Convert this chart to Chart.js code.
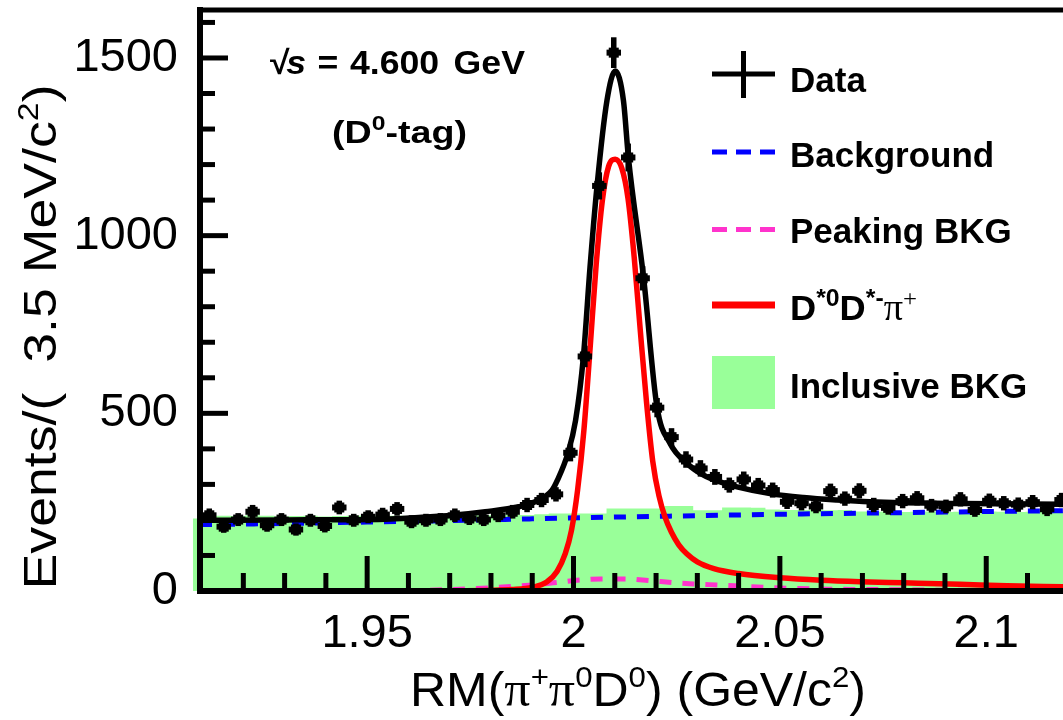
<!DOCTYPE html>
<html><head><meta charset="utf-8">
<script src="https://cdn.jsdelivr.net/npm/chart.js@4/dist/chart.umd.min.js"></script>
<style>html,body{margin:0;padding:0;background:#fff;}canvas{display:block;}</style>
</head><body>
<canvas id="c" width="1063" height="720"></canvas>
<script>
// ---------------- data ----------------
const binLow = 1.91, binWidth = 0.0035;
const dataCounts = [213,181,201,223,185,201,173,199,183,235,199,209,215,231,195,199,201,213,204,201,
  213,223,242,256,272,389,660,1140,1515,1220,880,516,433,370,345,321,298,314,297,284,
  251,247,238,281,260,282,242,234,253,261,240,238,258,228,254,247,243,250,230,256];
const dataErrors = [15,13,14,15,14,14,13,14,14,15,14,14,15,15,14,14,14,15,14,14,
  15,15,16,16,16,20,26,34,39,35,30,23,21,19,19,18,17,18,17,17,
  16,16,15,17,16,17,16,15,16,16,15,15,16,15,16,16,16,16,15,16];
const inclusiveStart = 1.9078;
const inclusiveBkg = [204,211,212,211,213,212,210,211,212,210,211,212,212,211,212,211,213,212,212,214,
  213,213,215,214,216,218,218,218,218,232,232,232,232,239,239,227,227,235,235,234,
  229,228,228,229,227,228,224,223,224,222,223,224,222,223,222,224,223,222,223,222];
const bkgX = [1.9095,1.93,1.95,1.97,1.99,2.01,2.03,2.05,2.07,2.09,2.11,2.1186];
const bkgY = [187,190,194,198,203,208,212,216,219,222,225,226];
const peakX = [1.9095,1.95,1.96,1.97,1.98,1.99,1.9951,2.0016,2.0065,2.0125,2.0186,2.0238,2.029,2.0347,2.0404,2.0468,2.0573,2.0629,2.0742,2.09,2.1186];
const peakY = [0,0,1,4,9,17,23,31,34,34,29,24,20,17,14,10,6,5,4,2,1];
const sigX = [1.9095,1.96,1.97,1.98,1.985,1.99,1.9935,1.996,1.998,1.9995,2.001,2.0025,2.004,2.0055,2.007,2.0085,2.0101,2.0117,2.0132,2.0147,2.0162,2.0177,2.0192,2.0207,2.0222,2.0237,2.0255,2.0275,2.03,2.034,2.04,2.05,2.06,2.0694,2.08,2.0936,2.105,2.1186];
const sigY = [0,0,0.5,2,4,10,25,55,105,170,285,450,680,920,1100,1195,1215,1190,1105,940,730,530,365,268,207,166,130,104,82,63,49,37,30,26,23,19,15,12];
const totX = [1.9095,1.93,1.9544,1.9625,1.9706,1.9786,1.9867,1.9907,1.9948,1.9961,1.9987,2.0005,2.0024,2.004,2.0057,2.0081,2.0101,2.0121,2.0133,2.017,2.0202,2.0234,2.0275,2.0315,2.0355,2.0396,2.0476,2.0557,2.0638,2.0718,2.0936,2.1186];
const totY = [199,200,202,207,213,223,237,251,284,312,390,480,660,911,1140,1380,1463,1380,1220,880,520,415,359,326,307,293,274,263,256,251,246,244];

const xTicksMajor = [1.95, 2, 2.05, 2.1];
const xTickLabels = ['1.95', '2', '2.05', '2.1'];
const xTicksMinor = [1.92,1.93,1.94,1.96,1.97,1.98,1.99,2.01,2.02,2.03,2.04,2.06,2.07,2.08,2.09,2.11];
const yTicksMajor = [0, 500, 1000, 1500];
const yTickLabels = ['0', '500', '1000', '1500'];
const yTicksMinor = [100,200,300,400,600,700,800,900,1100,1200,1300,1400,1600];
const xMin = 1.9095, xMax = 2.1186, yMin = 0, yMax = 1635;

const legendLabels = ['Data', 'Background', 'Peaking BKG', 'D*0D*-π+', 'Inclusive BKG'];

// ---------------- build datasets ----------------
const pairs = (xs, ys) => xs.map((x, i) => ({x, y: ys[i]}));
const greenPts = inclusiveBkg.map((v, i) => ({x: i === 0 ? inclusiveStart : binLow + binWidth * i, y: v}));
greenPts.push({x: binLow + binWidth * inclusiveBkg.length, y: inclusiveBkg[inclusiveBkg.length - 1]});
const dataPts = dataCounts.map((v, i) => ({x: binLow + binWidth * (i + 0.5), y: v}));

const SANS = '"Liberation Sans", Arial, Helvetica, sans-serif';
const GREEN = '#99ff99', BLUE = '#0000ff', MAG = '#ff33cc', RED = '#ff0000';

// draws rich text; fitWidth (optional) stretches the run horizontally to that width
function rich(ctx, parts, x, y, size, weight, align, fitWidth, supScale) {
  const ss = supScale || 0.62;
  const fontFor = (type) => {
    if (type === 's') return `${weight} ${Math.round(size * ss)}px ${SANS}`;
    if (type === 'p') return `${Math.round(size * 1.05)}px "Liberation Serif", "DejaVu Serif", serif`;
    if (type === 'ps') return `${Math.round(size * ss)}px "Liberation Serif", "DejaVu Serif", serif`;
    return `${weight} ${size}px ${SANS}`;
  };
  let w = 0;
  for (const [t, type] of parts) { ctx.font = fontFor(type); w += ctx.measureText(t).width; }
  const sx = fitWidth ? fitWidth / w : 1;
  ctx.save();
  ctx.translate(align === 'center' ? x - w * sx / 2 : x, y);
  ctx.scale(sx, 1);
  ctx.textAlign = 'left'; ctx.textBaseline = 'alphabetic';
  let cx = 0;
  for (const [t, type] of parts) {
    ctx.font = fontFor(type);
    const dy = (type === 's' || type === 'ps') ? -size * 0.40 : 0;
    ctx.fillText(t, cx, dy);
    cx += ctx.measureText(t).width;
  }
  ctx.restore();
  return w * sx;
}

const rootStyle = {
  id: 'rootStyle',
  beforeDraw(chart) {
    const ctx = chart.ctx;
    ctx.save(); ctx.fillStyle = '#fff'; ctx.fillRect(0, 0, chart.width, chart.height); ctx.restore();
  },
  beforeDatasetsDraw(chart) {
    // first inclusive-MC bin spills slightly left of the frame, as in the ROOT picture
    const ctx = chart.ctx, a = chart.chartArea, xs = chart.scales.x, ys = chart.scales.y;
    const x0 = xs.getPixelForValue(inclusiveStart), y0 = ys.getPixelForValue(inclusiveBkg[0]), yb = ys.getPixelForValue(0);
    ctx.save(); ctx.fillStyle = GREEN; ctx.fillRect(x0, y0, a.left - x0, yb - y0); ctx.restore();
  },
  afterDatasetsDraw(chart) {
    const ctx = chart.ctx, a = chart.chartArea, xs = chart.scales.x, ys = chart.scales.y;
    // data points with error bars
    ctx.save();
    ctx.beginPath(); ctx.rect(a.left, a.top, a.right - a.left, a.bottom - a.top); ctx.clip();
    ctx.strokeStyle = '#000'; ctx.fillStyle = '#000'; ctx.lineCap = 'butt';
    dataCounts.forEach((v, i) => {
      const c = binLow + binWidth * (i + 0.5);
      const px = xs.getPixelForValue(c), py = ys.getPixelForValue(v);
      const x0 = xs.getPixelForValue(c - binWidth / 2), x1 = xs.getPixelForValue(c + binWidth / 2);
      const e0 = ys.getPixelForValue(v - dataErrors[i]), e1 = ys.getPixelForValue(v + dataErrors[i]);
      ctx.lineWidth = 6;
      ctx.beginPath(); ctx.moveTo(x0, py); ctx.lineTo(x1, py); ctx.stroke();
      ctx.lineWidth = 5.5;
      ctx.beginPath(); ctx.moveTo(px, e1 - 1.5); ctx.lineTo(px, e0 + 1.5); ctx.stroke();
      ctx.fillRect(px - 5, py - 5, 10, 10);
    });
    ctx.restore();

    // frame
    ctx.save();
    ctx.strokeStyle = '#000'; ctx.lineCap = 'square';
    ctx.lineWidth = 6;
    ctx.beginPath(); ctx.moveTo(a.left, a.top); ctx.lineTo(a.left, a.bottom); ctx.lineTo(a.right + 5, a.bottom); ctx.stroke();
    ctx.lineWidth = 5;
    ctx.beginPath(); ctx.moveTo(a.left, a.top); ctx.lineTo(a.right + 5, a.top); ctx.stroke();
    // ticks
    ctx.lineCap = 'butt';
    ctx.lineWidth = 5;
    const xt = (vals, len) => vals.forEach(v => { const p = xs.getPixelForValue(v); ctx.beginPath(); ctx.moveTo(p, a.bottom); ctx.lineTo(p, a.bottom - len); ctx.stroke(); });
    const yt = (vals, len) => vals.forEach(v => { const p = ys.getPixelForValue(v); ctx.beginPath(); ctx.moveTo(a.left, p); ctx.lineTo(a.left + len, p); ctx.stroke(); });
    xt(xTicksMajor, 35); xt(xTicksMinor, 18);
    yt(yTicksMajor.filter(v => v > 0), 28); yt(yTicksMinor, 15);
    ctx.restore();
  },
  afterDraw(chart) {
    const ctx = chart.ctx;
    ctx.save();
    ctx.fillStyle = '#000';
    // axis titles
    rich(ctx, [['RM(', 'n'], ['π', 'p'], ['+', 's'], ['π', 'p'], ['0', 's'], ['D', 'n'], ['0', 's'], [') (GeV/c', 'n'], ['2', 's'], [')', 'n']], 638, 706, 48, 'normal', 'center', 456);
    ctx.save();
    ctx.translate(56, 337); ctx.rotate(-Math.PI / 2);
    rich(ctx, [['Events/(  3.5 MeV/c', 'n'], ['2', 's'], [')', 'n']], 0, 0, 46, 'normal', 'center', 505);
    ctx.restore();

    // annotation
    ctx.save();
    ctx.translate(270, 74); ctx.scale(1.08, 1);
    ctx.font = `bold 33px ${SANS}`; ctx.textBaseline = 'alphabetic'; ctx.textAlign = 'left';
    ctx.fillText('√', 0, 0);
    ctx.font = `italic bold 33px ${SANS}`; ctx.fillText('s', 15, 0);
    ctx.font = `bold 33px ${SANS}`; ctx.fillText('=', 44, 0);
    ctx.fillText('4.600', 74, 0);
    ctx.fillText('GeV', 170, 0);
    ctx.restore();
    rich(ctx, [['(D', 'n'], ['0', 's'], ['-tag)', 'n']], 332, 143, 32, 'bold', 'left', 135, 0.65);

    // legend
    const lx0 = 712, lx1 = 775, tx = 790;
    ctx.strokeStyle = '#000'; ctx.lineWidth = 5; ctx.lineCap = 'butt';
    ctx.beginPath(); ctx.moveTo(lx0, 74); ctx.lineTo(lx1, 74); ctx.moveTo(743.5, 51); ctx.lineTo(743.5, 98); ctx.stroke();
    ctx.setLineDash([15, 9]);
    ctx.strokeStyle = BLUE; ctx.beginPath(); ctx.moveTo(lx0, 152); ctx.lineTo(lx1, 152); ctx.stroke();
    ctx.strokeStyle = MAG; ctx.beginPath(); ctx.moveTo(lx0, 229.5); ctx.lineTo(lx1, 229.5); ctx.stroke();
    ctx.setLineDash([]);
    ctx.strokeStyle = RED; ctx.lineWidth = 7; ctx.beginPath(); ctx.moveTo(lx0, 305); ctx.lineTo(lx1, 305); ctx.stroke();
    ctx.fillStyle = GREEN; ctx.fillRect(lx0, 356, lx1 - lx0, 53);
    ctx.fillStyle = '#000';
    ctx.font = `bold 35px ${SANS}`; ctx.textAlign = 'left'; ctx.textBaseline = 'alphabetic';
    ctx.fillText(legendLabels[0], tx, 92);
    ctx.fillText(legendLabels[1], tx, 167);
    ctx.fillText(legendLabels[2], tx, 243);
    rich(ctx, [['D', 'n'], ['*0', 's'], ['D', 'n'], ['*-', 's'], ['π', 'p'], ['+', 'ps']], tx, 320, 35, 'bold', 'left', 127, 0.68);
    ctx.font = `bold 35px ${SANS}`;
    ctx.fillText(legendLabels[4], tx, 398);
    ctx.restore();
  }
};

const curve = (label, xs, ys, color, width, dash) => ({
  label, data: pairs(xs, ys), borderColor: color, borderWidth: width, borderDash: dash || [],
  pointRadius: 0, fill: false, cubicInterpolationMode: 'monotone', borderCapStyle: 'butt'
});

new Chart(document.getElementById('c'), {
  type: 'line',
  data: {
    datasets: [
      curve('Total fit', totX, totY, '#000', 5.5),
      curve('D*0D*-π+', sigX, sigY, RED, 5.5),
      curve('Peaking BKG', peakX, peakY, MAG, 5, [12, 11]),
      curve('Background', bkgX, bkgY, BLUE, 5, [12, 11]),
      { label: 'Inclusive BKG', data: greenPts, stepped: 'after', borderWidth: 0, borderColor: GREEN,
        backgroundColor: GREEN, fill: 'origin', pointRadius: 0 },
      { label: 'Data', data: dataPts, showLine: false, pointRadius: 0, borderColor: '#000' }
    ]
  },
  options: {
    responsive: false, animation: false, devicePixelRatio: 1,
    layout: { padding: { top: 10, right: 0, left: 0, bottom: 0 } },
    plugins: { legend: { display: false }, tooltip: { enabled: false } },
    scales: {
      x: {
        type: 'linear', min: xMin, max: xMax,
        grid: { display: false }, border: { display: false },
        afterFit: s => { s.height = 129; s.paddingLeft = 0; s.paddingRight = 0; },
        afterBuildTicks: s => { s.ticks = xTicksMajor.map(v => ({value: v})); },
        ticks: {
          autoSkip: false, maxRotation: 0, padding: 7, color: '#000',
          font: { family: SANS, size: 47 },
          callback: v => xTickLabels[xTicksMajor.indexOf(v)]
        }
      },
      y: {
        type: 'linear', min: yMin, max: yMax,
        grid: { display: false }, border: { display: false },
        afterFit: s => { s.width = 200; s.paddingTop = 0; s.paddingBottom = 0; },
        afterBuildTicks: s => { s.ticks = yTicksMajor.map(v => ({value: v})); },
        ticks: {
          autoSkip: false, padding: 14, color: '#000',
          font: { family: SANS, size: 47 },
          callback: v => yTickLabels[yTicksMajor.indexOf(v)]
        }
      }
    }
  },
  plugins: [rootStyle]
});
</script>
</body></html>
